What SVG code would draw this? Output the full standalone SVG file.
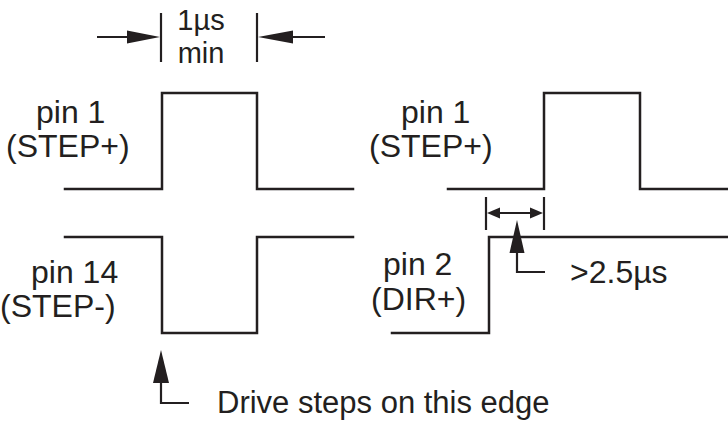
<svg xmlns="http://www.w3.org/2000/svg" width="728" height="423" viewBox="0 0 728 423">
  <style>
    .w { fill: none; stroke: #231f20; stroke-width: 2.5; stroke-linejoin: miter; stroke-linecap: square; }
    .l { fill: none; stroke: #231f20; stroke-width: 2.2; }
    .h { fill: #231f20; stroke: none; }
    text { font-family: "Liberation Sans", Arial, sans-serif; font-size: 32px; fill: #231f20; }
    .dim { font-size: 29px; }
    .note { font-size: 31px; }
  </style>
  <rect width="728" height="423" fill="#ffffff"/>
  <g id="step-plus-left">
    <polyline class="w" points="65,189 162,189 162,93 257,93 257,189 353,189"/>
    <text x="36" y="123">pin 1</text>
    <text x="6" y="157">(STEP+)</text>
  </g>
  <g id="step-minus-left">
    <polyline class="w" points="65,237 162,237 162,333 257,333 257,237 353,237"/>
    <text x="31" y="283">pin 14</text>
    <text x="0" y="317">(STEP-)</text>
  </g>
  <g id="step-plus-right">
    <polyline class="w" points="448,189 544,189 544,93 640,93 640,189 728,189"/>
    <text x="401" y="123">pin 1</text>
    <text x="369" y="157">(STEP+)</text>
  </g>
  <g id="dir-plus-right">
    <polyline class="w" points="392,333 489,333 489,237 728,237"/>
    <text x="383" y="275">pin 2</text>
    <text x="371" y="310">(DIR+)</text>
  </g>
  <g id="pulse-width-label">
    <text class="dim" x="201" y="30" text-anchor="middle">1µs</text>
    <text class="dim" x="201" y="63" text-anchor="middle">min</text>
  </g>
  <g id="setup-label">
    <text x="570" y="283">&gt;2.5µs</text>
  </g>
  <g id="edge-label">
    <text class="note" x="217" y="413">Drive steps on this edge</text>
  </g>
  <g id="connectors">
    <line class="l" x1="161" y1="13" x2="161" y2="62"/>
    <line class="l" x1="257" y1="13" x2="257" y2="62"/>
    <line class="l" x1="97" y1="37" x2="130" y2="37"/>
    <polygon class="h" points="160,37 127,30.5 127,43.5"/>
    <line class="l" x1="290" y1="37" x2="325" y2="37"/>
    <polygon class="h" points="258,37 293,30.5 293,43.5"/>
    <line class="l" x1="486" y1="197" x2="486" y2="230"/>
    <line class="l" x1="544" y1="197" x2="544" y2="230"/>
    <line class="l" x1="497" y1="213" x2="533" y2="213"/>
    <polygon class="h" points="487,213 500,207.5 500,218.5"/>
    <polygon class="h" points="543,213 530,207.5 530,218.5"/>
    <polyline class="l" points="517,250 517,272 545,272"/>
    <polygon class="h" points="517,220 509.5,253 524.5,253"/>
    <polyline class="l" points="161,380 161,403 189,403"/>
    <polygon class="h" points="161,350 153,383 169,383"/>
  </g>
</svg>
